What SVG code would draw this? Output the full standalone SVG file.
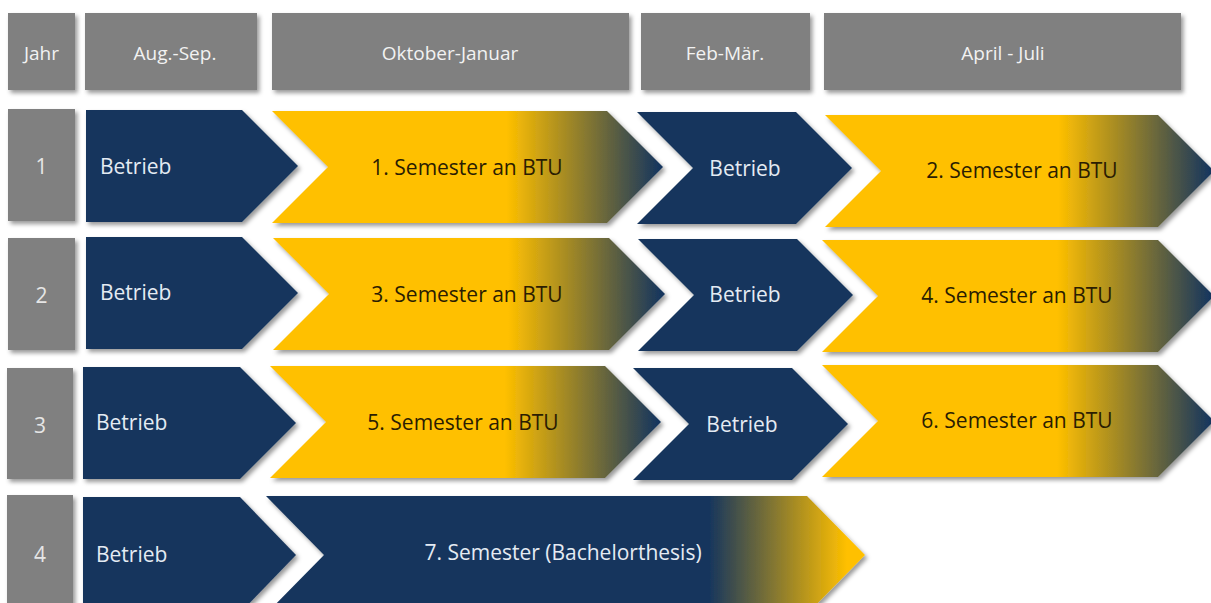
<svg xmlns="http://www.w3.org/2000/svg" width="1211" height="603" viewBox="0 0 1211 603">
  <defs>
    <filter id="sh" x="-10%" y="-10%" width="125%" height="130%">
      <feDropShadow dx="2.5" dy="3" stdDeviation="2" flood-color="#000" flood-opacity="0.4"/>
    </filter>
    <linearGradient id="gy" x1="0" y1="0" x2="1" y2="0">
      <stop offset="0" stop-color="#ffc000"/>
      <stop offset="0.6" stop-color="#ffc000"/>
      <stop offset="0.99" stop-color="#17365d"/>
    </linearGradient>
    <linearGradient id="gn" x1="0" y1="0" x2="1" y2="0">
      <stop offset="0" stop-color="#17365d"/>
      <stop offset="0.74" stop-color="#17365d"/>
      <stop offset="0.97" stop-color="#ffc000"/>
    </linearGradient>
  </defs>
  <style>
    .hd { fill: #808080; filter: url(#sh); }
    .nv { fill: #17365d; filter: url(#sh); }
    .ye { fill: url(#gy); filter: url(#sh); }
    .ng { fill: url(#gn); filter: url(#sh); }
    text { font-family: "Open Sans", "Noto Sans", "Liberation Sans", sans-serif; }
    .th { fill: #f2f2f2; font-size: 19px; text-anchor: middle; }
    .tn { fill: #e6e6e6; font-size: 21px; text-anchor: middle; }
    .tb { fill: #e4ebf3; font-size: 21px; }
    .tbc { fill: #e4ebf3; font-size: 21px; text-anchor: middle; }
    .ty { fill: #2b1d02; font-size: 21px; text-anchor: middle; }
  </style>
  <rect width="1211" height="603" fill="#ffffff"/>

  <g id="header">
    <g id="h-jahr"><rect class="hd" x="8" y="13" width="67" height="77"/><text class="th" x="41.5" y="60">Jahr</text></g>
    <g id="h-aug"><rect class="hd" x="85" y="13" width="172" height="77"/><text class="th" x="175" y="60">Aug.-Sep.</text></g>
    <g id="h-okt"><rect class="hd" x="272" y="13" width="357" height="77"/><text class="th" x="450" y="60">Oktober-Januar</text></g>
    <g id="h-feb"><rect class="hd" x="641" y="13" width="169" height="77"/><text class="th" x="725" y="60">Feb-Mär.</text></g>
    <g id="h-apr"><rect class="hd" x="824" y="13" width="357" height="77"/><text class="th" x="1003" y="60">April - Juli</text></g>
  </g>

  <g id="row1">
    <g id="r1-year"><rect class="hd" x="8" y="109" width="67" height="112"/><text class="tn" x="41.5" y="174">1</text></g>
    <g id="r1-betrieb1"><polygon class="nv" points="86,110 242,110 298,166 242,222 86,222"/><text class="tb" x="100" y="174">Betrieb</text></g>
    <g id="r1-sem1"><polygon class="ye" points="272,111 607,111 663,167 607,223 272,223 328,167"/><text class="ty" x="467" y="175">1. Semester an BTU</text></g>
    <g id="r1-betrieb2"><polygon class="nv" points="637,112 796,112 852,168 796,224 637,224 693,168"/><text class="tbc" x="745" y="176">Betrieb</text></g>
    <g id="r1-sem2"><polygon class="ye" points="825,115 1158,115 1214,171 1158,227 825,227 881,171"/><text class="ty" x="1022" y="178">2. Semester an BTU</text></g>
  </g>

  <g id="row2">
    <g id="r2-year"><rect class="hd" x="8" y="238" width="67" height="112"/><text class="tn" x="41.5" y="303">2</text></g>
    <g id="r2-betrieb1"><polygon class="nv" points="86,237 242,237 298,293 242,349 86,349"/><text class="tb" x="100" y="300">Betrieb</text></g>
    <g id="r2-sem3"><polygon class="ye" points="273,238 609,238 665,294 609,350 273,350 329,294"/><text class="ty" x="467" y="302">3. Semester an BTU</text></g>
    <g id="r2-betrieb2"><polygon class="nv" points="638,239 797,239 853,295 797,351 638,351 694,295"/><text class="tbc" x="745" y="302">Betrieb</text></g>
    <g id="r2-sem4"><polygon class="ye" points="822,240 1158,240 1214,296 1158,352 822,352 878,296"/><text class="ty" x="1017" y="303">4. Semester an BTU</text></g>
  </g>

  <g id="row3">
    <g id="r3-year"><rect class="hd" x="7" y="368" width="66" height="111"/><text class="tn" x="40" y="433">3</text></g>
    <g id="r3-betrieb1"><polygon class="nv" points="83,367 240,367 296,423 240,479 83,479"/><text class="tb" x="96" y="430">Betrieb</text></g>
    <g id="r3-sem5"><polygon class="ye" points="270,366 605,366 661,422 605,478 270,478 326,422"/><text class="ty" x="463" y="430">5. Semester an BTU</text></g>
    <g id="r3-betrieb2"><polygon class="nv" points="633,368 792,368 848,424 792,480 633,480 689,424"/><text class="tbc" x="742" y="432">Betrieb</text></g>
    <g id="r3-sem6"><polygon class="ye" points="822,365 1158,365 1214,421 1158,477 822,477 878,421"/><text class="ty" x="1017" y="428">6. Semester an BTU</text></g>
  </g>

  <g id="row4">
    <g id="r4-year"><rect class="hd" x="7" y="495" width="66" height="118"/><text class="tn" x="40" y="562">4</text></g>
    <g id="r4-betrieb1"><polygon class="nv" points="83,497 240,497 296,555 240,613 83,613"/><text class="tb" x="96" y="562">Betrieb</text></g>
    <g id="r4-sem7"><polygon class="ng" points="266,496 807,496 865,555 807,614 266,614 324,555"/><text class="tbc" x="563" y="560">7. Semester (Bachelorthesis)</text></g>
  </g>

  <g id="connectors"/>
</svg>
